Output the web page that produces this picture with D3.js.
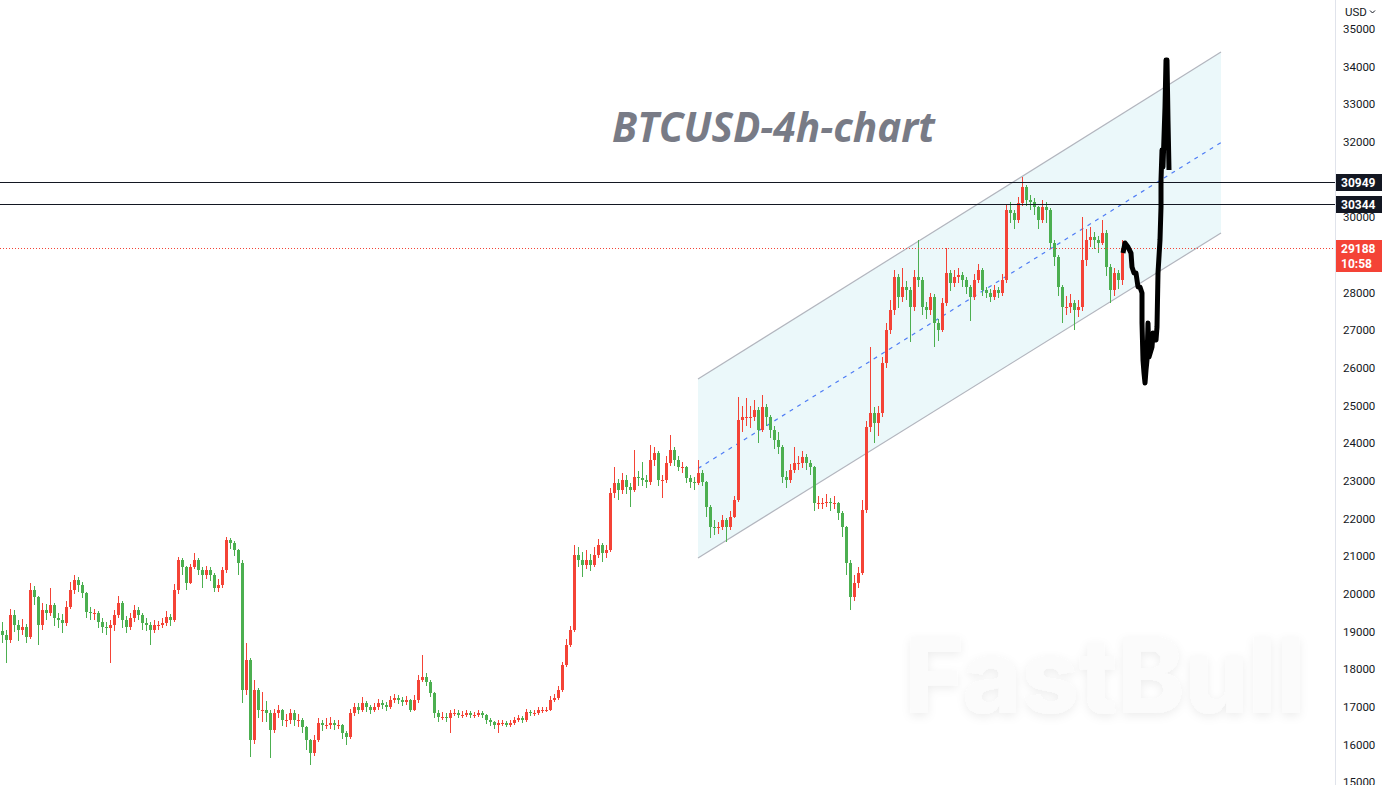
<!DOCTYPE html>
<html>
<head>
<meta charset="utf-8">
<script src="https://cdn.jsdelivr.net/npm/d3@7"></script>
<style>
  html, body { margin: 0; padding: 0; background: #ffffff; overflow: hidden; }
  svg { display: block; }
</style>
</head>
<body>
<script>
// BTCUSD 4h candles (open = previous close)
var firstOpen = 19000;

var closes = [18900,18770,19440,19170,19040,19120,18850,20100,19910,19170,
  19570,19490,19700,19360,19300,19220,19650,20100,20370,20230,
  20020,19520,19490,19490,19250,19120,19090,19170,19440,19760,
  19300,19120,19360,19570,19440,19220,19170,19040,19170,19170,
  19220,19380,19300,20100,20900,20710,20290,20710,20900,20630,
  20500,20630,20500,20150,20230,20630,21430,21350,21160,20820,
  17440,18240,16120,17440,16910,16910,16830,16380,16830,16910,
  16650,16650,16830,16650,16650,16460,16120,15770,16120,16570,
  16510,16510,16570,16510,16510,16300,16200,16830,16990,16910,
  17100,16990,16910,16990,17100,17050,16990,17180,17230,17180,
  17130,17180,16910,17180,17710,17790,17660,17360,16830,16730,
  16730,16700,16830,16830,16780,16780,16830,16780,16780,16830,
  16780,16650,16590,16510,16570,16570,16510,16570,16650,16700,
  16650,16860,16830,16830,16910,16910,16910,17180,17230,17440,
  18110,18640,19040,21030,20900,20760,20900,20760,21030,21300,
  21080,21160,22680,22940,22760,23020,22840,22760,23100,23070,
  23020,22970,23550,23740,23020,23020,23470,23820,23550,23370,
  23370,23070,22970,22940,23210,22970,22300,21770,21750,21770,
  21960,21770,22040,22490,24620,24690,24690,24690,24880,24350,
  24960,24690,24350,24080,23900,23100,23020,23290,23470,23470,
  23630,23470,23370,22410,22410,22410,22440,22410,22410,22150,
  21770,20820,19910,20290,20550,22220,24430,24800,24540,24800,
  26130,27010,27540,28410,27880,28150,28070,27620,28410,28330,
  27620,27540,27880,27190,27010,27720,28520,28250,28410,28470,
  28330,28150,27880,28330,28600,28070,27990,27880,28070,27990,
  28330,30190,30110,29930,30380,30800,30460,30410,30270,29930,
  30270,30190,29320,28940,28150,27620,27620,27720,27540,27620,
  28860,29400,29480,29400,29320,29580,28680,28070,28520,28330,
  29188];

var highs = [19250,19050,19600,19560,19300,19330,19200,20290,20200,19950,
  19750,19720,20150,19750,19500,19450,19800,20300,20500,20450,
  20300,20050,19650,19600,19550,19350,19250,19300,19560,19940,
  19800,19400,19500,19700,19650,19500,19350,19250,19300,19280,
  19350,19550,19450,20250,20980,20950,20750,20800,21080,20950,
  20700,20750,20700,20550,20400,20700,21500,21480,21400,21200,
  20900,18700,18300,17700,17500,17400,17150,16900,16950,17050,
  16950,16800,16950,16900,16800,16700,16500,16150,16250,16700,
  16650,16700,16720,16650,16650,16550,16350,16950,17100,17100,
  17250,17150,17050,17100,17200,17180,17120,17280,17330,17300,
  17250,17280,17200,17300,17850,18370,17900,17700,17400,16900,
  16850,16820,16900,16950,16900,16880,16900,16880,16850,16900,
  16880,16800,16700,16620,16650,16650,16620,16650,16720,16780,
  16750,16950,16920,16900,17000,17000,16980,17280,17350,17560,
  18200,18800,19150,21300,21250,21100,21150,21050,21250,21450,
  21350,21300,22800,23370,23050,23200,23150,22950,23820,23250,
  23500,23150,23950,23900,23800,23150,23650,24220,23900,23650,
  23500,23400,23150,23100,23550,23300,23000,22350,21950,21900,
  22080,22000,22200,22600,25230,25000,25200,25000,25150,24950,
  25280,25050,24750,24450,24300,23950,23250,23450,23900,23650,
  23800,23700,23550,23400,22600,22550,22650,22550,22600,22450,
  22200,21800,20900,20500,20700,22500,24600,26550,24950,25000,
  26300,27200,27800,28600,28500,28650,28300,28150,28600,29400,
  28400,27750,28000,27950,27300,27850,29180,28600,28600,28650,
  28550,28400,28200,28500,28750,28650,28150,28100,28200,28150,
  28500,30350,30400,30200,30550,31070,30850,30600,30500,30300,
  30450,30400,30250,29400,29000,28200,27900,27950,27800,27800,
  30000,29700,29750,29600,29500,29930,29650,28750,28650,28600,
  29400];

var lows = [18700,18160,18700,18980,18750,18900,18700,18800,19700,18650,
  19050,19300,19400,19150,19100,18950,19150,19600,20000,20050,
  19900,19350,19300,19300,19100,18950,18900,18160,19000,19350,
  19100,18950,19050,19250,19300,19050,19000,18640,18950,19050,
  19080,19150,19150,19250,20000,20500,20100,20250,20650,20500,
  20150,20400,20350,20050,20050,20150,20550,21200,21000,20500,
  17100,17300,15660,16000,16700,16600,16600,15640,16300,16700,
  16500,16450,16550,16500,16450,16300,15850,15450,15700,16050,
  16350,16400,16400,16380,16400,16150,15980,16150,16750,16800,
  16850,16850,16800,16850,16900,16950,16880,16950,17100,17080,
  17020,17050,16850,16880,17100,17650,17550,17250,16700,16600,
  16650,16600,16300,16750,16700,16700,16720,16700,16700,16720,
  16700,16550,16500,16420,16300,16480,16450,16470,16520,16600,
  16580,16600,16750,16750,16780,16830,16850,16880,17120,17180,
  17400,18050,18580,18980,20700,20450,20650,20600,20700,20950,
  20850,20950,21100,22550,22500,22650,22650,22300,22700,22850,
  22850,22800,22900,23400,22850,22550,22950,23400,23400,23250,
  23200,22950,22800,22750,22900,22850,22050,21480,21550,21600,
  21700,21380,21700,22000,22450,24300,24450,24400,24600,24000,
  24300,24450,24150,23850,23700,22950,22800,22950,23200,23300,
  23350,23300,23150,22200,22250,22250,22300,22200,22250,21950,
  21500,20500,19570,19800,20150,20500,22150,24300,24000,24200,
  24700,26000,26900,27400,27600,27750,27800,26690,27500,28150,
  27400,27300,27400,26550,26700,26950,27650,28050,28150,28250,
  28150,27950,27250,27800,28250,27900,27850,27750,27800,27850,
  27900,28250,29850,29700,29850,30300,30300,30200,30050,29700,
  29850,29850,29150,28700,27900,27200,27400,27450,27000,27350,
  27500,28700,29200,29150,29050,29250,28450,27720,27900,28100,
  28200];

// hand drawn projection (bar index, price)
var projBars = [280.25,280.75,281.5,282.25,282.5,283,283.5,283.75,284,284.5,
  285,285,285.25,285.5,285.75,286,286.25,286.5,286.75,287.5,
  287.75,288.5,288.75,289,289.5,289.75,289.75,290,290.25,290.5,
  290.75,291,291.25,291.5,291.75];
var projPrices = [29050,29316,29210,29050,28678,28519,28519,28333,28147,28147,
  27988,27191,26208,25863,25597,25943,26208,27191,26288,26554,
  26926,26740,27085,28519,29396,30272,30989,31786,31334,32131,
  32928,34176,34176,32583,31255];

// parallel channel: bar index / price of the two anchors on each line
var channelBars = [174, 304.75];
var channelUpper = [25704, 34389];
var channelLower = [20950, 29582];

var levels = [30949, 30344];
var lastPrice = 29188;
var lastLabel = "10:58";
var yTicks = d3.range(15000, 35001, 1000);

var svgWidth = 1383;
var svgHeight = 785;
var axisX = 1335;

var svg = d3.select("body")
  .append("svg")
  .attr("width", svgWidth)
  .attr("height", svgHeight)
  .style("font-family", "Roboto, 'Liberation Sans', sans-serif");

var xScale = d3.scaleLinear()
  .domain([0, 280])
  .range([2, 1122]);

var yScale = d3.scaleLinear()
  .domain([15000, 35000])
  .range([782, 29]);

// watermark
var defs = svg.append("defs");
var shadow = defs.append("filter")
  .attr("id", "wm")
  .attr("x", "-10%").attr("y", "-30%")
  .attr("width", "120%").attr("height", "160%");
shadow.append("feDropShadow")
  .attr("dx", 0).attr("dy", 3)
  .attr("stdDeviation", 5)
  .attr("flood-color", "#000")
  .attr("flood-opacity", 0.07);

svg.append("text")
  .attr("x", 905)
  .attr("y", 713)
  .attr("textLength", 400)
  .attr("lengthAdjust", "spacingAndGlyphs")
  .attr("filter", "url(#wm)")
  .style("font-family", "Inter, Lato, sans-serif")
  .style("font-weight", 800)
  .style("font-size", "104px")
  .style("fill", "#fbfbfb")
  .text("FastBull");

// channel
var chGroup = svg.append("g");
var poly = [
  [channelBars[0], channelUpper[0]],
  [channelBars[1], channelUpper[1]],
  [channelBars[1], channelLower[1]],
  [channelBars[0], channelLower[0]]
];
chGroup.append("path")
  .attr("d", "M" + poly.map(p => xScale(p[0]) + "," + yScale(p[1])).join("L") + "Z")
  .attr("fill", "#ebf8fa");

[channelUpper, channelLower].forEach(function(line) {
  chGroup.append("line")
    .attr("x1", xScale(channelBars[0])).attr("y1", yScale(line[0]))
    .attr("x2", xScale(channelBars[1])).attr("y2", yScale(line[1]))
    .attr("stroke", "#b2b5be")
    .attr("stroke-width", 1.2);
});

chGroup.append("line")
  .attr("x1", xScale(channelBars[0])).attr("y1", yScale((channelUpper[0] + channelLower[0]) / 2))
  .attr("x2", xScale(channelBars[1])).attr("y2", yScale((channelUpper[1] + channelLower[1]) / 2))
  .attr("stroke", "#4f7df5")
  .attr("stroke-width", 1.2)
  .attr("stroke-dasharray", "4,5");

// title
svg.append("text")
  .attr("x", 612)
  .attr("y", 142)
  .attr("textLength", 323)
  .attr("lengthAdjust", "spacingAndGlyphs")
  .style("font-family", "'Open Sans', 'DejaVu Sans', sans-serif")
  .style("font-weight", 700)
  .style("font-style", "italic")
  .style("font-size", "41px")
  .style("fill", "#787b86")
  .text("BTCUSD-4h-chart");

// candles
var candles = closes.map(function(c, i) {
  return {
    i: i,
    open: i === 0 ? firstOpen : closes[i - 1],
    close: c,
    high: highs[i],
    low: lows[i]
  };
});

var upColor = "#f44336";
var downColor = "#4caf50";

var candleGroup = svg.append("g").attr("shape-rendering", "crispEdges");

candleGroup.selectAll(".wick")
  .data(candles)
  .enter()
  .append("rect")
  .attr("x", d => Math.round(xScale(d.i)))
  .attr("y", d => yScale(d.high))
  .attr("width", 1)
  .attr("height", d => Math.max(1, yScale(d.low) - yScale(d.high)))
  .attr("fill", d => d.close >= d.open ? upColor : downColor);

candleGroup.selectAll(".body")
  .data(candles)
  .enter()
  .append("rect")
  .attr("x", d => Math.round(xScale(d.i)) - 1)
  .attr("y", d => yScale(Math.max(d.open, d.close)))
  .attr("width", 3)
  .attr("height", d => Math.max(1, Math.abs(yScale(d.open) - yScale(d.close))))
  .attr("fill", d => d.close >= d.open ? upColor : downColor);

// horizontal levels
levels.forEach(function(v) {
  svg.append("line")
    .attr("x1", 0).attr("x2", axisX)
    .attr("y1", Math.round(yScale(v)) + 0.5).attr("y2", Math.round(yScale(v)) + 0.5)
    .attr("stroke", "#131722")
    .attr("stroke-width", 1);
});

svg.append("line")
  .attr("x1", 0).attr("x2", axisX)
  .attr("y1", Math.round(yScale(lastPrice)) + 0.5).attr("y2", Math.round(yScale(lastPrice)) + 0.5)
  .attr("stroke", upColor)
  .attr("stroke-width", 1)
  .attr("stroke-dasharray", "1,2");

// projection drawing
var projLine = d3.line()
  .x((d, i) => xScale(projBars[i]))
  .y(d => yScale(d));

svg.append("path")
  .datum(projPrices)
  .attr("d", projLine)
  .attr("fill", "none")
  .attr("stroke", "#000000")
  .attr("stroke-width", 5)
  .attr("stroke-linejoin", "round")
  .attr("stroke-linecap", "butt");

// right price axis
svg.append("rect")
  .attr("x", axisX).attr("y", 0)
  .attr("width", svgWidth - axisX).attr("height", svgHeight)
  .attr("fill", "#ffffff");

svg.append("line")
  .attr("x1", axisX + 0.5).attr("x2", axisX + 0.5)
  .attr("y1", 0).attr("y2", svgHeight)
  .attr("stroke", "#e0e3eb");

var labelYs = levels.map(v => yScale(v)).concat([yScale(lastPrice) + 7]);
var shownTicks = yTicks.filter(t => labelYs.every(ly => Math.abs(yScale(t) - ly) > 12));

var yAxis = d3.axisRight(yScale)
  .tickValues(shownTicks)
  .tickSize(0)
  .tickPadding(8)
  .tickFormat(d3.format("d"));

var axisG = svg.append("g")
  .attr("transform", `translate(${axisX}, 0)`)
  .call(yAxis);
axisG.select(".domain").remove();
axisG.selectAll("text")
  .style("font-family", "Roboto, 'Liberation Sans', sans-serif")
  .style("font-size", "11.5px")
  .attr("fill", "#131722");

// currency label
svg.append("rect")
  .attr("x", axisX + 1).attr("y", 0)
  .attr("width", svgWidth - axisX - 1).attr("height", 22)
  .attr("fill", "#ffffff");
svg.append("text")
  .attr("x", 1345).attr("y", 16)
  .style("font-size", "11.5px")
  .attr("fill", "#131722")
  .text("USD");
svg.append("path")
  .attr("d", "M1370,10.5L1372.5,13L1375,10.5")
  .attr("fill", "none")
  .attr("stroke", "#131722")
  .attr("stroke-width", 1);

// level labels
levels.forEach(function(v) {
  var yy = Math.round(yScale(v));
  svg.append("rect")
    .attr("x", axisX + 1).attr("y", yy - 8)
    .attr("width", 46).attr("height", 17)
    .attr("fill", "#131722");
  svg.append("text")
    .attr("x", axisX + 6).attr("y", yy + 4.5)
    .style("font-size", "12px")
    .style("font-weight", 700)
    .attr("fill", "#ffffff")
    .text(v);
});

var ly = Math.round(yScale(lastPrice));
svg.append("rect")
  .attr("x", axisX + 1).attr("y", ly - 8)
  .attr("width", 46).attr("height", 32)
  .attr("fill", upColor);
svg.append("text")
  .attr("x", axisX + 6).attr("y", ly + 4.5)
  .style("font-size", "12px")
  .style("font-weight", 700)
  .attr("fill", "#ffffff")
  .text(lastPrice);
svg.append("text")
  .attr("x", axisX + 6).attr("y", ly + 19.5)
  .style("font-size", "12px")
  .style("font-weight", 700)
  .attr("fill", "#ffffff")
  .text(lastLabel);
</script>
</body>
</html>
